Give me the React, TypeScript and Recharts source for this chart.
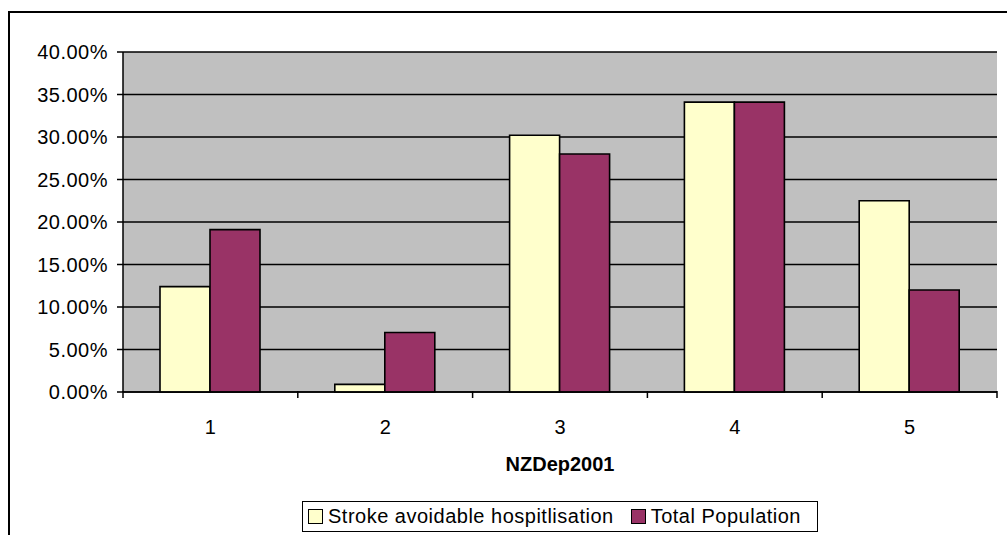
import { Bar, BarChart, CartesianGrid, Legend, Rectangle, XAxis, YAxis } from "recharts";

const categories = ["1", "2", "3", "4", "5"];
const strokeHosp = [0.124, 0.009, 0.302, 0.341, 0.225];
const totalPop = [0.191, 0.07, 0.28, 0.341, 0.12];
const yTicks = [0, 0.05, 0.1, 0.15, 0.2, 0.25, 0.3, 0.35, 0.4];

const SERIES = [
  { key: "stroke", name: "Stroke avoidable hospitlisation", color: "#FFFFCC" },
  { key: "total", name: "Total Population", color: "#993366" },
];

const data = categories.map((c, i) => ({
  cat: c,
  stroke: strokeHosp[i],
  total: totalPop[i],
}));

const FONT = '"Liberation Sans", Arial, sans-serif';
const PLOT_LEFT = 123;
const PLOT_RIGHT = 997;
const PLOT_BOTTOM = 391;
const BAND = (PLOT_RIGHT - PLOT_LEFT) / categories.length;

const pct = (v: number) => (v * 100).toFixed(2) + "%";

// category labels centred, tick marks on the category boundaries (Excel style)
function CatTick(props: any) {
  const { x, payload, index } = props;
  const half = BAND / 2;
  return (
    <g>
      <line x1={x - half} x2={x - half} y1={PLOT_BOTTOM} y2={PLOT_BOTTOM + 7} stroke="#000" strokeWidth={1.5} />
      {index === categories.length - 1 && (
        <line x1={x + half} x2={x + half} y1={PLOT_BOTTOM} y2={PLOT_BOTTOM + 7} stroke="#000" strokeWidth={1.5} />
      )}
      <text x={x} y={434} textAnchor="middle" fill="#000" fontSize={20} fontFamily={FONT}>
        {payload.value}
      </text>
    </g>
  );
}

function OutlinedBar(props: any) {
  return <Rectangle {...props} stroke="#000" strokeWidth={1.6} />;
}

function LegendBox() {
  return (
    <div
      style={{
        display: "flex",
        alignItems: "center",
        border: "1.5px solid #000",
        background: "#fff",
        height: 31,
        width: 516,
        boxSizing: "border-box",
        fontFamily: FONT,
        fontSize: 20,
        letterSpacing: 0.5,
        color: "#000",
        paddingLeft: 5,
      }}
    >
      {SERIES.map((s, i) => (
        <div key={s.key} style={{ display: "flex", alignItems: "center", marginLeft: i === 0 ? 0 : 17 }}>
          <span
            style={{
              display: "inline-block",
              width: 13,
              height: 13,
              background: s.color,
              border: "1.5px solid #000",
              marginRight: 5,
            }}
          />
          <span>{s.name}</span>
        </div>
      ))}
    </div>
  );
}

export default function App() {
  return (
    <div style={{ position: "absolute", left: 0, top: 0, width: 1007, height: 535, overflow: "hidden", background: "#fff" }}>
      <div
        style={{
          position: "absolute",
          left: 8,
          top: 11,
          width: 1100,
          height: 600,
          borderLeft: "2px solid #000",
          borderTop: "2px solid #000",
        }}
      />
      <div style={{ position: "absolute", left: 0, top: 0 }}>
        <BarChart
          width={1007}
          height={535}
          data={data}
          margin={{ top: 52, right: 10, left: 0, bottom: 23 }}
          barGap={0}
          barSize={50}
        >
          <CartesianGrid vertical={false} stroke="#000" strokeWidth={1.5} fill="#C0C0C0" fillOpacity={1} />
          <XAxis
            dataKey="cat"
            height={89}
            axisLine={{ stroke: "#000", strokeWidth: 1.5 }}
            tickLine={false}
            tick={<CatTick />}
            interval={0}
            label={{
              value: "NZDep2001",
              position: "insideBottom",
              offset: 10,
              fill: "#000",
              fontSize: 20,
              fontWeight: "bold",
              fontFamily: FONT,
            }}
          />
          <XAxis
            xAxisId="top"
            dataKey="cat"
            orientation="top"
            height={0}
            tick={false}
            tickLine={false}
            axisLine={{ stroke: "#808080", strokeWidth: 1.5 }}
          />
          <YAxis
            width={123}
            domain={[0, 0.4]}
            ticks={yTicks}
            interval={0}
            tickFormatter={pct}
            tickSize={6}
            tickMargin={9}
            axisLine={{ stroke: "#000", strokeWidth: 1.5 }}
            tickLine={{ stroke: "#000", strokeWidth: 1.5 }}
            tick={{ fill: "#000", fontSize: 20, fontFamily: FONT, letterSpacing: 0.5 }}
          />
          <YAxis
            yAxisId="right"
            orientation="right"
            width={0}
            domain={[0, 0.4]}
            tick={false}
            tickLine={false}
            axisLine={{ stroke: "#808080", strokeWidth: 1.5 }}
          />
          <Legend
            layout="vertical"
            align="center"
            verticalAlign="bottom"
            content={<LegendBox />}
            wrapperStyle={{ left: 302, top: 501, width: 516, bottom: "auto" }}
          />
          {SERIES.map((s) => (
            <Bar
              key={s.key}
              dataKey={s.key}
              name={s.name}
              fill={s.color}
              stroke="#000"
              strokeWidth={1.6}
              shape={<OutlinedBar />}
              isAnimationActive={false}
            />
          ))}
        </BarChart>
      </div>
    </div>
  );
}
